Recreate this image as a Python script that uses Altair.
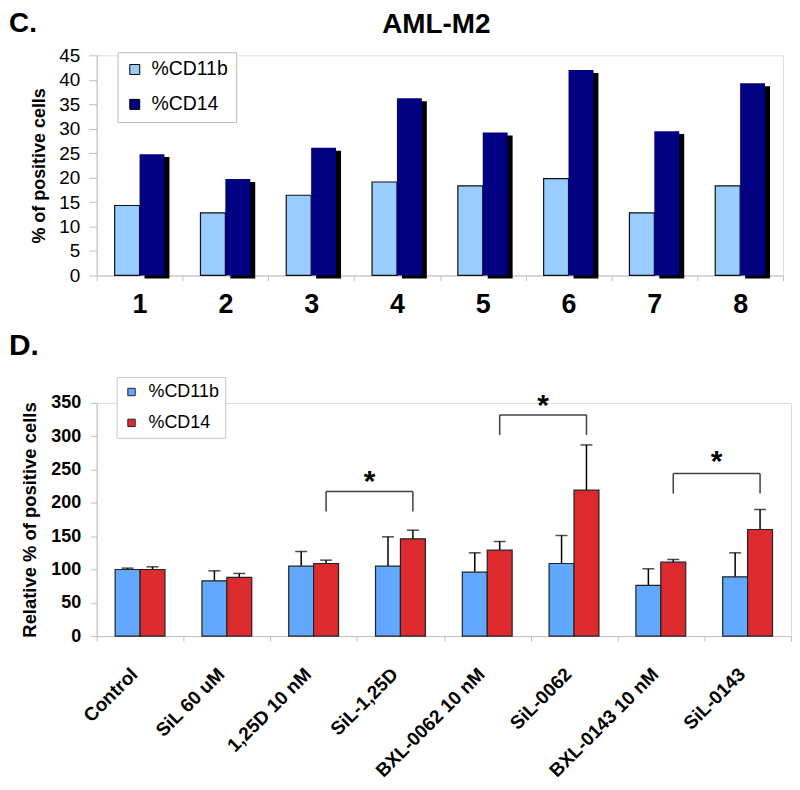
import altair as alt
import pandas as pd

FONT = "Liberation Sans"

# ---------------- Panel C data ----------------
groups_c = ["1", "2", "3", "4", "5", "6", "7", "8"]
cd11b_c = [14.3, 12.8, 16.4, 19.1, 18.3, 19.8, 12.8, 18.3]
cd14_c = [24.8, 19.7, 26.1, 36.2, 29.2, 42.0, 29.5, 39.3]
series = ["%CD11b", "%CD14"]
colors_c = ["#99CCFF", "#000080"]

# ---------------- Panel D data ----------------
treat_d = ["Control", "SiL 60 uM", "1,25D 10 nM", "SiL-1,25D",
           "BXL-0062 10 nM", "SiL-0062", "BXL-0143 10 nM", "SiL-0143"]
cd11b_d = [100, 83, 105, 105, 96, 109, 76, 89]
cd14_d = [100, 88, 109, 146, 129, 219, 111, 160]
cd11b_sd = [2, 15, 22, 44, 29, 42, 25, 36]
cd14_sd = [4, 6, 5, 13, 13, 68, 4, 30]
colors_d = ["#62A8FF", "#DD2A2F"]

sig_left = ["1,25D 10 nM", "BXL-0062 10 nM", "BXL-0143 10 nM"]
sig_right = ["SiL-1,25D", "SiL-0062", "SiL-0143"]
sig_top = [217, 332, 244]
sig_leg = [187, 302, 214]
sig_star = [241, 354, 271]

# ---------------- layout ----------------
W_C, H_C = 689, 221
W_D, H_D = 697, 234
BAR = 25
HALF = BAR / 2
BAND_D = W_D / len(treat_d)

# ---------------- Panel C ----------------
dfc = pd.DataFrame({
    "group": groups_c * 2,
    "series": [series[0]] * len(groups_c) + [series[1]] * len(groups_c),
    "value": cd11b_c + cd14_c,
})

xc = alt.X("group:N", title=None,
           scale=alt.Scale(domain=groups_c, paddingInner=0, paddingOuter=0),
           axis=alt.Axis(labelAngle=0, labelFont=FONT, labelFontSize=27,
                         labelFontWeight="bold", labelColor="black",
                         labelPadding=11, tickSize=5, tickBand="extent",
                         domainColor="#c0c0c0", tickColor="#c0c0c0"))
yc = alt.Y("value:Q", title="% of positive cells",
           scale=alt.Scale(domain=[0, 45], nice=False),
           axis=alt.Axis(values=list(range(0, 50, 5)), grid=False,
                         labelFont=FONT, labelFontSize=19, labelColor="black",
                         labelPadding=9, tickSize=8,
                         domainColor="#c0c0c0", tickColor="#c0c0c0",
                         titleFont=FONT, titleFontSize=18, titleFontWeight="bold",
                         titleColor="black", titlePadding=10))
colc = alt.Color("series:N",
                 scale=alt.Scale(domain=series, range=colors_c),
                 legend=alt.Legend(title=None, orient="none", legendX=21, legendY=-3,
                                   direction="vertical", symbolType="square",
                                   symbolSize=100, symbolStrokeColor="black",
                                   symbolStrokeWidth=1, labelFont=FONT,
                                   labelFontSize=19.5, labelColor="black",
                                   labelOffset=7, padding=7.5, rowPadding=14,
                                   strokeColor="#b8b8b8", fillColor="white"))

base_c = alt.Chart(dfc)
shadow_c = base_c.transform_filter(alt.datum.series == series[1]).mark_bar(
    color="black", width=BAR, xOffset=HALF + 5, yOffset=3, y2Offset=-3
).encode(x=xc, y=yc)
bar11_c = base_c.transform_filter(alt.datum.series == series[0]).mark_bar(
    width=BAR, xOffset=-HALF, stroke="#111111", strokeWidth=1.2
).encode(x=xc, y=yc, color=colc)
bar14_c = base_c.transform_filter(alt.datum.series == series[1]).mark_bar(
    width=BAR, xOffset=HALF
).encode(x=xc, y=yc, color=colc)

lab_c = alt.Chart(pd.DataFrame({"t": ["C."]})).mark_text(
    font=FONT, fontSize=28, fontWeight="bold", align="left", baseline="middle", color="black"
).encode(text="t:N", x=alt.value(-88), y=alt.value(-31))
title_c = alt.Chart(pd.DataFrame({"t": ["AML-M2"]})).mark_text(
    font=FONT, fontSize=28, fontWeight="bold", align="center", baseline="middle", color="black"
).encode(text="t:N", x=alt.value(341), y=alt.value(-30))

chart_c = alt.layer(shadow_c, bar11_c, bar14_c, lab_c, title_c).properties(
    width=W_C, height=H_C)

# ---------------- Panel D ----------------
dfd = pd.DataFrame({
    "treat": treat_d * 2,
    "series": [series[0]] * len(treat_d) + [series[1]] * len(treat_d),
    "value": cd11b_d + cd14_d,
    "sd": cd11b_sd + cd14_sd,
})

xd_scale = alt.Scale(domain=treat_d, paddingInner=0, paddingOuter=0)
xd_axis = alt.Axis(labelAngle=-45, labelAlign="right", labelBaseline="middle",
                   labelFont=FONT, labelFontSize=19,
                   labelFontWeight="bold", labelColor="black",
                   labelPadding=30, labelOffset=-6, labelOverlap=False,
                   labelLimit=300,
                   tickSize=5, tickBand="extent",
                   domainColor="#c0c0c0", tickColor="#c0c0c0")
yd_axis = alt.Axis(values=list(range(0, 400, 50)), grid=False,
                   labelFont=FONT, labelFontSize=18, labelFontWeight="bold",
                   labelColor="black", labelPadding=10, tickSize=6,
                   domainColor="#c0c0c0", tickColor="#c0c0c0",
                   titleFont=FONT, titleFontSize=18.5, titleFontWeight="bold",
                   titleColor="black", titlePadding=11)
yd_scale = alt.Scale(domain=[0, 350], nice=False)
YT = "Relative % of positive cells"


def xd(field):
    return alt.X(field, type="nominal", scale=xd_scale, axis=xd_axis, title=None)


def yd(field):
    return alt.Y(field, type="quantitative", scale=yd_scale, axis=yd_axis, title=YT)


cold = alt.Color("series:N",
                 scale=alt.Scale(domain=series, range=colors_d),
                 legend=alt.Legend(title=None, orient="none", legendX=20, legendY=-26,
                                   direction="vertical", symbolType="square",
                                   symbolSize=55, symbolStrokeColor="#222222",
                                   symbolStrokeWidth=1, labelFont=FONT,
                                   labelFontSize=18, labelColor="black",
                                   labelOffset=8, padding=6, rowPadding=13,
                                   strokeColor="#c8c8c8", fillColor="white"))

base_d = alt.Chart(dfd).transform_calculate(upper="datum.value + datum.sd")

layers_d = []
for s, off in ((series[0], -HALF), (series[1], HALF)):
    sub = base_d.transform_filter(alt.datum.series == s)
    layers_d.append(sub.mark_rule(color="black", strokeWidth=1.5, xOffset=off).encode(
        x=xd("treat"), y=yd("value"), y2="upper:Q"))
    layers_d.append(sub.mark_tick(color="black", thickness=1.5, size=12, xOffset=off,
                                  orient="horizontal").encode(
        x=xd("treat"), y=yd("upper")))
    layers_d.append(sub.mark_bar(width=BAR, xOffset=off, stroke="#222222", strokeWidth=1.2).encode(
        x=xd("treat"), y=yd("value"), color=cold))

# significance brackets
df_br = pd.DataFrame({"left": sig_left, "right": sig_right, "top": sig_top})
bracket_h = alt.Chart(df_br).mark_rule(color="#404040", strokeWidth=1.5,
                                       xOffset=HALF, x2Offset=HALF).encode(
    x=xd("left"), x2="right:N", y=yd("top"))
df_legs = pd.DataFrame({
    "cat": sig_left + sig_right,
    "top": sig_top + sig_top,
    "leg": sig_leg + sig_leg,
})
bracket_v = alt.Chart(df_legs).mark_rule(color="#404040", strokeWidth=1.5, xOffset=HALF).encode(
    x=xd("cat"), y=yd("top"), y2="leg:Q")
df_star = pd.DataFrame({"cat": sig_right, "y": sig_star, "t": ["*"] * 3})
stars = alt.Chart(df_star).mark_text(
    font=FONT, fontSize=30, fontWeight="bold", color="black",
    xOffset=HALF - BAND_D / 2, baseline="middle", align="center", dy=6
).encode(x=xd("cat"), y=yd("y"), text="t:N")

lab_d = alt.Chart(pd.DataFrame({"t": ["D."]})).mark_text(
    font=FONT, fontSize=30, fontWeight="bold", align="left", baseline="middle", color="black"
).encode(text="t:N", x=alt.value(-88), y=alt.value(-57))

chart_d = alt.layer(*layers_d, bracket_h, bracket_v, stars, lab_d).properties(
    width=W_D, height=H_D)

chart = alt.vconcat(chart_c, chart_d, spacing=12).resolve_scale(
    color="independent", x="independent", y="independent"
).resolve_legend(color="independent").properties(
    padding={"left": 0, "top": 0, "right": 0, "bottom": 0}
).configure_view(strokeWidth=0).configure(background="white")

chart.save("out.html", embed_options={"renderer": "svg", "actions": False})
